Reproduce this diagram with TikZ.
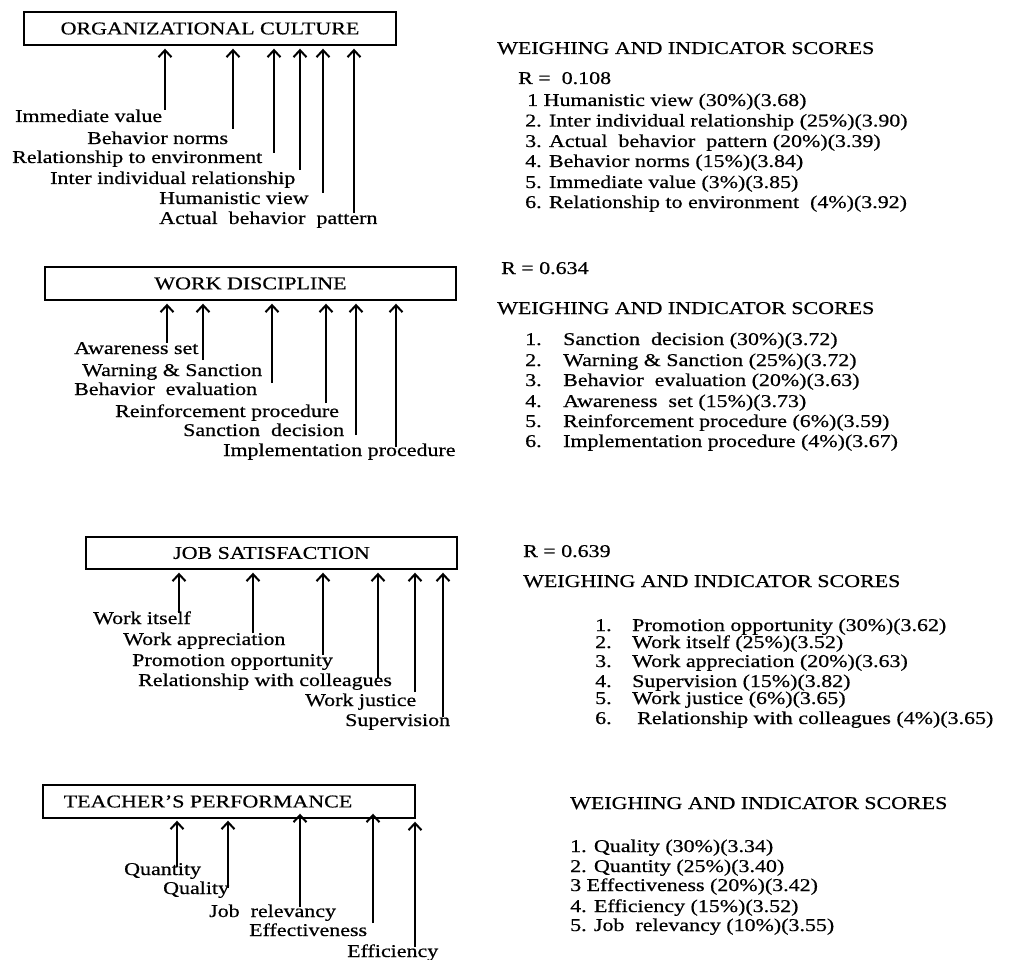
\documentclass[tikz,border=0pt]{standalone}
\usepackage{fontspec}
\setmainfont{Liberation Serif}[FakeStretch=1.22, FakeBold=0.6]
\usetikzlibrary{arrows.meta}

\begin{document}
\begin{tikzpicture}[x=1pt, y=-1pt,
  every node/.style={font=\fontsize{18}{20}\selectfont},
  box/.style={draw, line width=1.4pt, rectangle, minimum height=33pt, inner sep=0pt},
  lbl/.style={anchor=west, inner sep=0pt, text height=12pt, text depth=4pt},
  arr/.style={line width=2pt, -{Straight Barb[length=7pt, width=13pt]}, shorten >=3pt}
]
\useasboundingbox (0,0) rectangle (1009,960);

% organizational culture
\node[box, minimum width=372pt] (oc) at (210,28.5) {ORGANIZATIONAL CULTURE};
\node[lbl] (ivl) at (15,118)  {Immediate value};
\node[lbl] (bnl) at (87,140)  {Behavior norms};
\node[lbl] (rel) at (12,159)  {Relationship to environment};
\node[lbl] (iil) at (50,180)  {Inter individual relationship};
\node[lbl] (hvl) at (159,200) {Humanistic view};
\node[lbl] (abl) at (159,220) {Actual\ \ behavior\ \ pattern};
\coordinate (oc1) at (165,110);
\coordinate (oc2) at (233,129);
\coordinate (oc3) at (274,153);
\coordinate (oc4) at (300,170);
\coordinate (oc5) at (323,193);
\coordinate (oc6) at (354,213);
\draw[arr] (oc1) -- (oc1 |- oc.south);
\draw[arr] (oc2) -- (oc2 |- oc.south);
\draw[arr] (oc3) -- (oc3 |- oc.south);
\draw[arr] (oc4) -- (oc4 |- oc.south);
\draw[arr] (oc5) -- (oc5 |- oc.south);
\draw[arr] (oc6) -- (oc6 |- oc.south);
\node[lbl] (ocw)  at (497,50)    {WEIGHING AND INDICATOR SCORES};
\node[lbl] (ocr)  at (518,80)    {R =\ \ 0.108};
\node[lbl] (oct1) at (527,102)   {1 Humanistic view (30\%)(3.68)};
\node[lbl] (oct2) at (525,122.5) {2. Inter individual relationship (25\%)(3.90)};
\node[lbl] (oct3) at (525,143)   {3. Actual\ \ behavior\ \ pattern (20\%)(3.39)};
\node[lbl] (oct4) at (525,163)   {4. Behavior norms (15\%)(3.84)};
\node[lbl] (oct5) at (525,184)   {5. Immediate value (3\%)(3.85)};
\node[lbl] (oct6) at (525,204)   {6. Relationship to environment\ \ (4\%)(3.92)};

% work discipline
\node[box, minimum width=411pt] (wd) at (250.5,283.5) {WORK DISCIPLINE};
\node[lbl] (asl) at (74,350)  {Awareness set};
\node[lbl] (wsl) at (82,372)  {Warning \& Sanction};
\node[lbl] (bel) at (74,391)  {Behavior\ \ evaluation};
\node[lbl] (rpl) at (115,413) {Reinforcement procedure};
\node[lbl] (sdl) at (183,432) {Sanction\ \ decision};
\node[lbl] (ipl) at (223,452) {Implementation procedure};
\coordinate (wd1) at (167,343);
\coordinate (wd2) at (203,360);
\coordinate (wd3) at (272,383);
\coordinate (wd4) at (326,403);
\coordinate (wd5) at (356,435);
\coordinate (wd6) at (396,447);
\draw[arr] (wd1) -- (wd1 |- wd.south);
\draw[arr] (wd2) -- (wd2 |- wd.south);
\draw[arr] (wd3) -- (wd3 |- wd.south);
\draw[arr] (wd4) -- (wd4 |- wd.south);
\draw[arr] (wd5) -- (wd5 |- wd.south);
\draw[arr] (wd6) -- (wd6 |- wd.south);
\node[lbl] (wdr)  at (501,270) {R = 0.634};
\node[lbl] (wdw)  at (497,310) {WEIGHING AND INDICATOR SCORES};
\node[lbl] (wdt1) at (525,341) {\makebox[38pt][l]{1.}Sanction\ \ decision (30\%)(3.72)};
\node[lbl] (wdt2) at (525,362) {\makebox[38pt][l]{2.}Warning \& Sanction (25\%)(3.72)};
\node[lbl] (wdt3) at (525,382) {\makebox[38pt][l]{3.}Behavior\ \ evaluation (20\%)(3.63)};
\node[lbl] (wdt4) at (525,403) {\makebox[38pt][l]{4.}Awareness\ \ set (15\%)(3.73)};
\node[lbl] (wdt5) at (525,423) {\makebox[38pt][l]{5.}Reinforcement procedure (6\%)(3.59)};
\node[lbl] (wdt6) at (525,443) {\makebox[38pt][l]{6.}Implementation procedure (4\%)(3.67)};

% job satisfaction
\node[box, minimum width=371pt, minimum height=32pt] (js) at (271.5,553) {JOB SATISFACTION};
\node[lbl] (wil) at (93,620)  {Work itself};
\node[lbl] (wal) at (123,641) {Work appreciation};
\node[lbl] (pol) at (132,662) {Promotion opportunity};
\node[lbl] (rcl) at (138,682) {Relationship with colleagues};
\node[lbl] (wjl) at (305,702) {Work justice};
\node[lbl] (spl) at (345,722) {Supervision};
\coordinate (js1) at (179,613);
\coordinate (js2) at (253,633);
\coordinate (js3) at (323,655);
\coordinate (js4) at (378,678);
\coordinate (js5) at (415,692);
\coordinate (js6) at (443,717);
\draw[arr] (js1) -- (js1 |- js.south);
\draw[arr] (js2) -- (js2 |- js.south);
\draw[arr] (js3) -- (js3 |- js.south);
\draw[arr] (js4) -- (js4 |- js.south);
\draw[arr] (js5) -- (js5 |- js.south);
\draw[arr] (js6) -- (js6 |- js.south);
\node[lbl] (jsr)  at (523,553) {R = 0.639};
\node[lbl] (jsw)  at (523,583) {WEIGHING AND INDICATOR SCORES};
\node[lbl] (jst1) at (595,627) {\makebox[37pt][l]{1.}Promotion opportunity (30\%)(3.62)};
\node[lbl] (jst2) at (595,644) {\makebox[37pt][l]{2.}Work itself (25\%)(3.52)};
\node[lbl] (jst3) at (595,663) {\makebox[37pt][l]{3.}Work appreciation (20\%)(3.63)};
\node[lbl] (jst4) at (595,683) {\makebox[37pt][l]{4.}Supervision (15\%)(3.82)};
\node[lbl] (jst5) at (595,700) {\makebox[37pt][l]{5.}Work justice (6\%)(3.65)};
\node[lbl] (jst6) at (595,720) {\makebox[42pt][l]{6.}Relationship with colleagues (4\%)(3.65)};

% teacher's performance
\node[box, minimum width=372pt] (tp) at (229,801.5) {TEACHER’S PERFORMANCE\hspace*{42pt}};
\node[lbl] (qnl) at (124,871) {Quantity};
\node[lbl] (qll) at (163,890) {Quality};
\node[lbl] (jrl) at (209,913) {Job\ \ relevancy};
\node[lbl] (efl) at (249,932) {Effectiveness};
\node[lbl] (ecl) at (347,953) {Efficiency};
\coordinate (tp1) at (177,867);
\coordinate (tp2) at (228,888);
\coordinate (tp3) at (300,907);
\coordinate (tp4) at (373,923);
\coordinate (tp5) at (415,947);
\draw[arr, shorten >=2pt] (tp1) -- (tp1 |- tp.south);
\draw[arr, shorten >=2pt] (tp2) -- (tp2 |- tp.south);
\draw[arr, shorten >=-5pt] (tp3) -- (tp3 |- tp.south);
\draw[arr, shorten >=-5pt] (tp4) -- (tp4 |- tp.south);
\draw[arr] (tp5) -- (tp5 |- tp.south);
\node[lbl] (tpw)  at (570,805) {WEIGHING AND INDICATOR SCORES};
\node[lbl] (tpt1) at (570,848) {1. Quality (30\%)(3.34)};
\node[lbl] (tpt2) at (570,868) {2. Quantity (25\%)(3.40)};
\node[lbl] (tpt3) at (570,887) {3 Effectiveness (20\%)(3.42)};
\node[lbl] (tpt4) at (570,908) {4. Efficiency (15\%)(3.52)};
\node[lbl] (tpt5) at (570,927) {5. Job\ \ relevancy (10\%)(3.55)};
\end{tikzpicture}
\end{document}
